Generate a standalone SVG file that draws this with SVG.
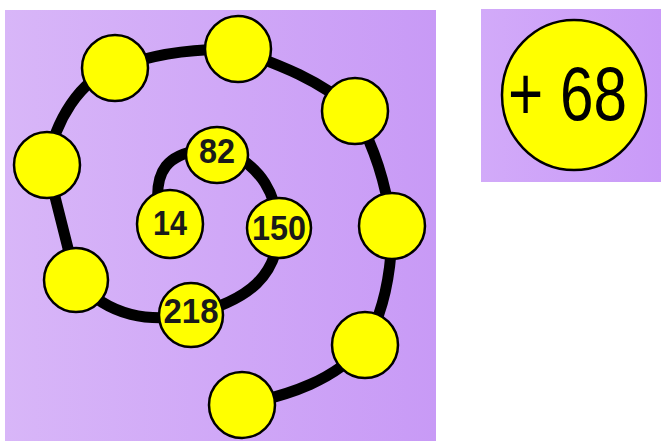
<svg xmlns="http://www.w3.org/2000/svg" width="661" height="441" viewBox="0 0 661 441">
<defs>
<linearGradient id="bg1" x1="0" y1="0" x2="1" y2="0">
<stop offset="0" stop-color="#d8b6f8"/>
<stop offset="1" stop-color="#c89af6"/>
</linearGradient>
<linearGradient id="bg2" x1="0" y1="0" x2="1" y2="0">
<stop offset="0" stop-color="#d2aaf9"/>
<stop offset="1" stop-color="#c99af8"/>
</linearGradient>
</defs>
<style>
.ball{fill:#ffff00;stroke:#000;stroke-width:2.5}
.num{font-family:"Liberation Sans",Arial,sans-serif;font-weight:bold;font-size:35px;fill:#1a1a1a;text-anchor:middle}
.wire{fill:none;stroke:#000;stroke-width:11;stroke-linecap:round}
</style>
<rect x="5" y="10" width="431" height="431" fill="url(#bg1)"/>
<rect x="481" y="9" width="180" height="173" fill="url(#bg2)"/>
<g id="connectors">
<path class="wire" d="M158 205 C155 170 168 155 200 150 M235 155 C260 170 275 190 279 228 C278 275 250 300 191 315 C150 322 110 318 76 280 L47 165 C55 120 80 80 115 68 C160 52 200 48 238 50 C280 65 320 80 355 111 C375 150 385 180 392 226 C392 270 385 310 365 345 C335 380 290 395 242 405"/>
</g>
<g id="n1"><circle class="ball" cx="115" cy="68" r="33"/></g>
<g id="n2"><circle class="ball" cx="238" cy="49" r="33"/></g>
<g id="n3"><circle class="ball" cx="355" cy="111" r="33"/></g>
<g id="n4"><circle class="ball" cx="392" cy="226" r="33"/></g>
<g id="n5"><circle class="ball" cx="365" cy="345" r="33"/></g>
<g id="n6"><circle class="ball" cx="242" cy="405" r="33"/></g>
<g id="n7"><circle class="ball" cx="47" cy="165" r="33"/></g>
<g id="n8"><circle class="ball" cx="76" cy="280" r="32"/></g>
<g id="n82"><ellipse class="ball" cx="217" cy="155" rx="31" ry="28"/><text class="num" x="217" y="163" textLength="36" lengthAdjust="spacingAndGlyphs">82</text></g>
<g id="n14"><ellipse class="ball" cx="170" cy="224" rx="33" ry="34"/><text class="num" x="170" y="235" textLength="34" lengthAdjust="spacingAndGlyphs">14</text></g>
<g id="n150"><ellipse class="ball" cx="279" cy="228" rx="32" ry="30"/><text class="num" x="279" y="240" textLength="54" lengthAdjust="spacingAndGlyphs">150</text></g>
<g id="n218"><ellipse class="ball" cx="191" cy="315" rx="32" ry="32"/><text class="num" x="191" y="323" textLength="55" lengthAdjust="spacingAndGlyphs">218</text></g>
<g id="rule"><ellipse class="ball" cx="574" cy="95" rx="72" ry="75" stroke-width="3"/><text x="508" y="120" font-family="Liberation Sans,Arial,sans-serif" font-size="76" fill="#000" textLength="119" lengthAdjust="spacingAndGlyphs">+ 68</text></g>
</svg>
